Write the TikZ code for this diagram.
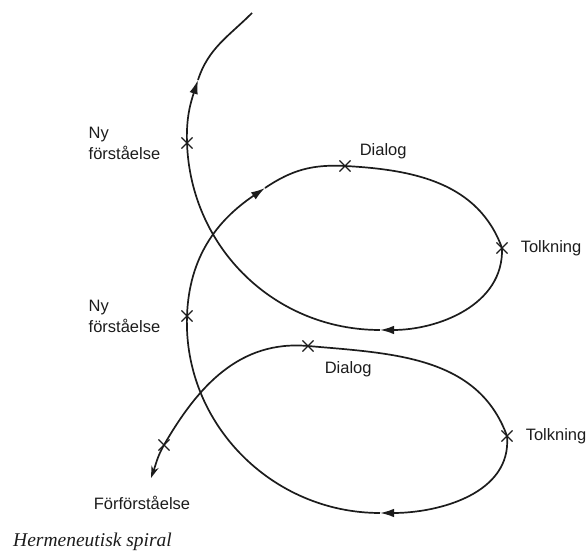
\documentclass[tikz,border=0pt]{standalone}
\usepackage{fontspec}
\setmainfont{Liberation Sans}
\newfontfamily\capserif{Liberation Serif}
\usepackage{xcolor}
\usepackage{tikz}
\usetikzlibrary{positioning, arrows.meta, shapes.misc}
\definecolor{ink}{HTML}{1C1C1C}

\begin{document}
\begin{tikzpicture}[x=1pt, y=1pt,
    spiral/.style={draw=ink, line width=1.7pt},
    midtip/.style={-{Latex[length=14pt, width=8.5pt]}},
    crossmark/.style={cross out, draw=ink, line width=1.1pt, minimum size=10pt, inner sep=0pt},
    lbl/.style={text=ink, font=\fontsize{16.5}{21}\selectfont, inner sep=0pt, align=left}]
    \useasboundingbox (0,0) rectangle (587,554);
    \coordinate (start) at (151,76);
    \node[crossmark] (pre) at (164,109) {};
    \node[crossmark] (dia1) at (308,208) {};
    \node[crossmark] (tol1) at (507,118) {};
    \coordinate (low1) at (380,41);
    \node[crossmark] (ny1) at (187,238) {};
    \coordinate (up1) at (265,366);
    \node[crossmark] (dia2) at (345,388) {};
    \node[crossmark] (tol2) at (502,306) {};
    \coordinate (low2) at (380,224);
    \node[crossmark] (ny2) at (187,411) {};
    \coordinate (up2) at (198,474);
    \coordinate (end) at (252,541);

    \draw[spiral, {Stealth[length=12pt, width=7.5pt]}-{Latex[length=14pt, width=8.5pt]}]
        (start) to[out=70, in=-120] (pre.center)
        to[out=60, in=175] (dia1.center)
        to[out=-5, in=110] (tol1.center)
        to[out=-85, in=0] (low1);
    \draw[spiral, midtip] (low1) to[out=180, in=-92] (ny1.center) to[out=88, in=214] (up1);
    \draw[spiral, midtip] (up1) to[out=34, in=177] (dia2.center)
        to[out=-3, in=110] (tol2.center) to[out=-88, in=0] (low2);
    \draw[spiral, midtip] (low2) to[out=180, in=-88] (ny2.center) to[out=92, in=252] (up2);
    \draw[spiral] (up2) to[out=72, in=225] (end);

    \node[lbl, left=21pt of ny2] (ny2txt) {Ny\\förståelse};
    \node[lbl, left=21pt of ny1] (ny1txt) {Ny\\förståelse};
    \node[lbl, above right=1.5pt and 9pt of dia2] (dia2txt) {Dialog};
    \node[lbl, below right=10pt and 11pt of dia1] (dia1txt) {Dialog};
    \node[lbl, right=13pt of tol2] (tol2txt) {Tolkning};
    \node[lbl, right=13pt of tol1] (tol1txt) {Tolkning};
    \node[lbl, below=18pt of start, xshift=-9pt] (pretxt) {Förförståelse};
    \node[text=ink, font=\capserif\itshape\fontsize{19.5}{22}\selectfont, inner sep=0pt,
          anchor=base west] (caption) at (13,7) {Hermeneutisk spiral};
\end{tikzpicture}
\end{document}
